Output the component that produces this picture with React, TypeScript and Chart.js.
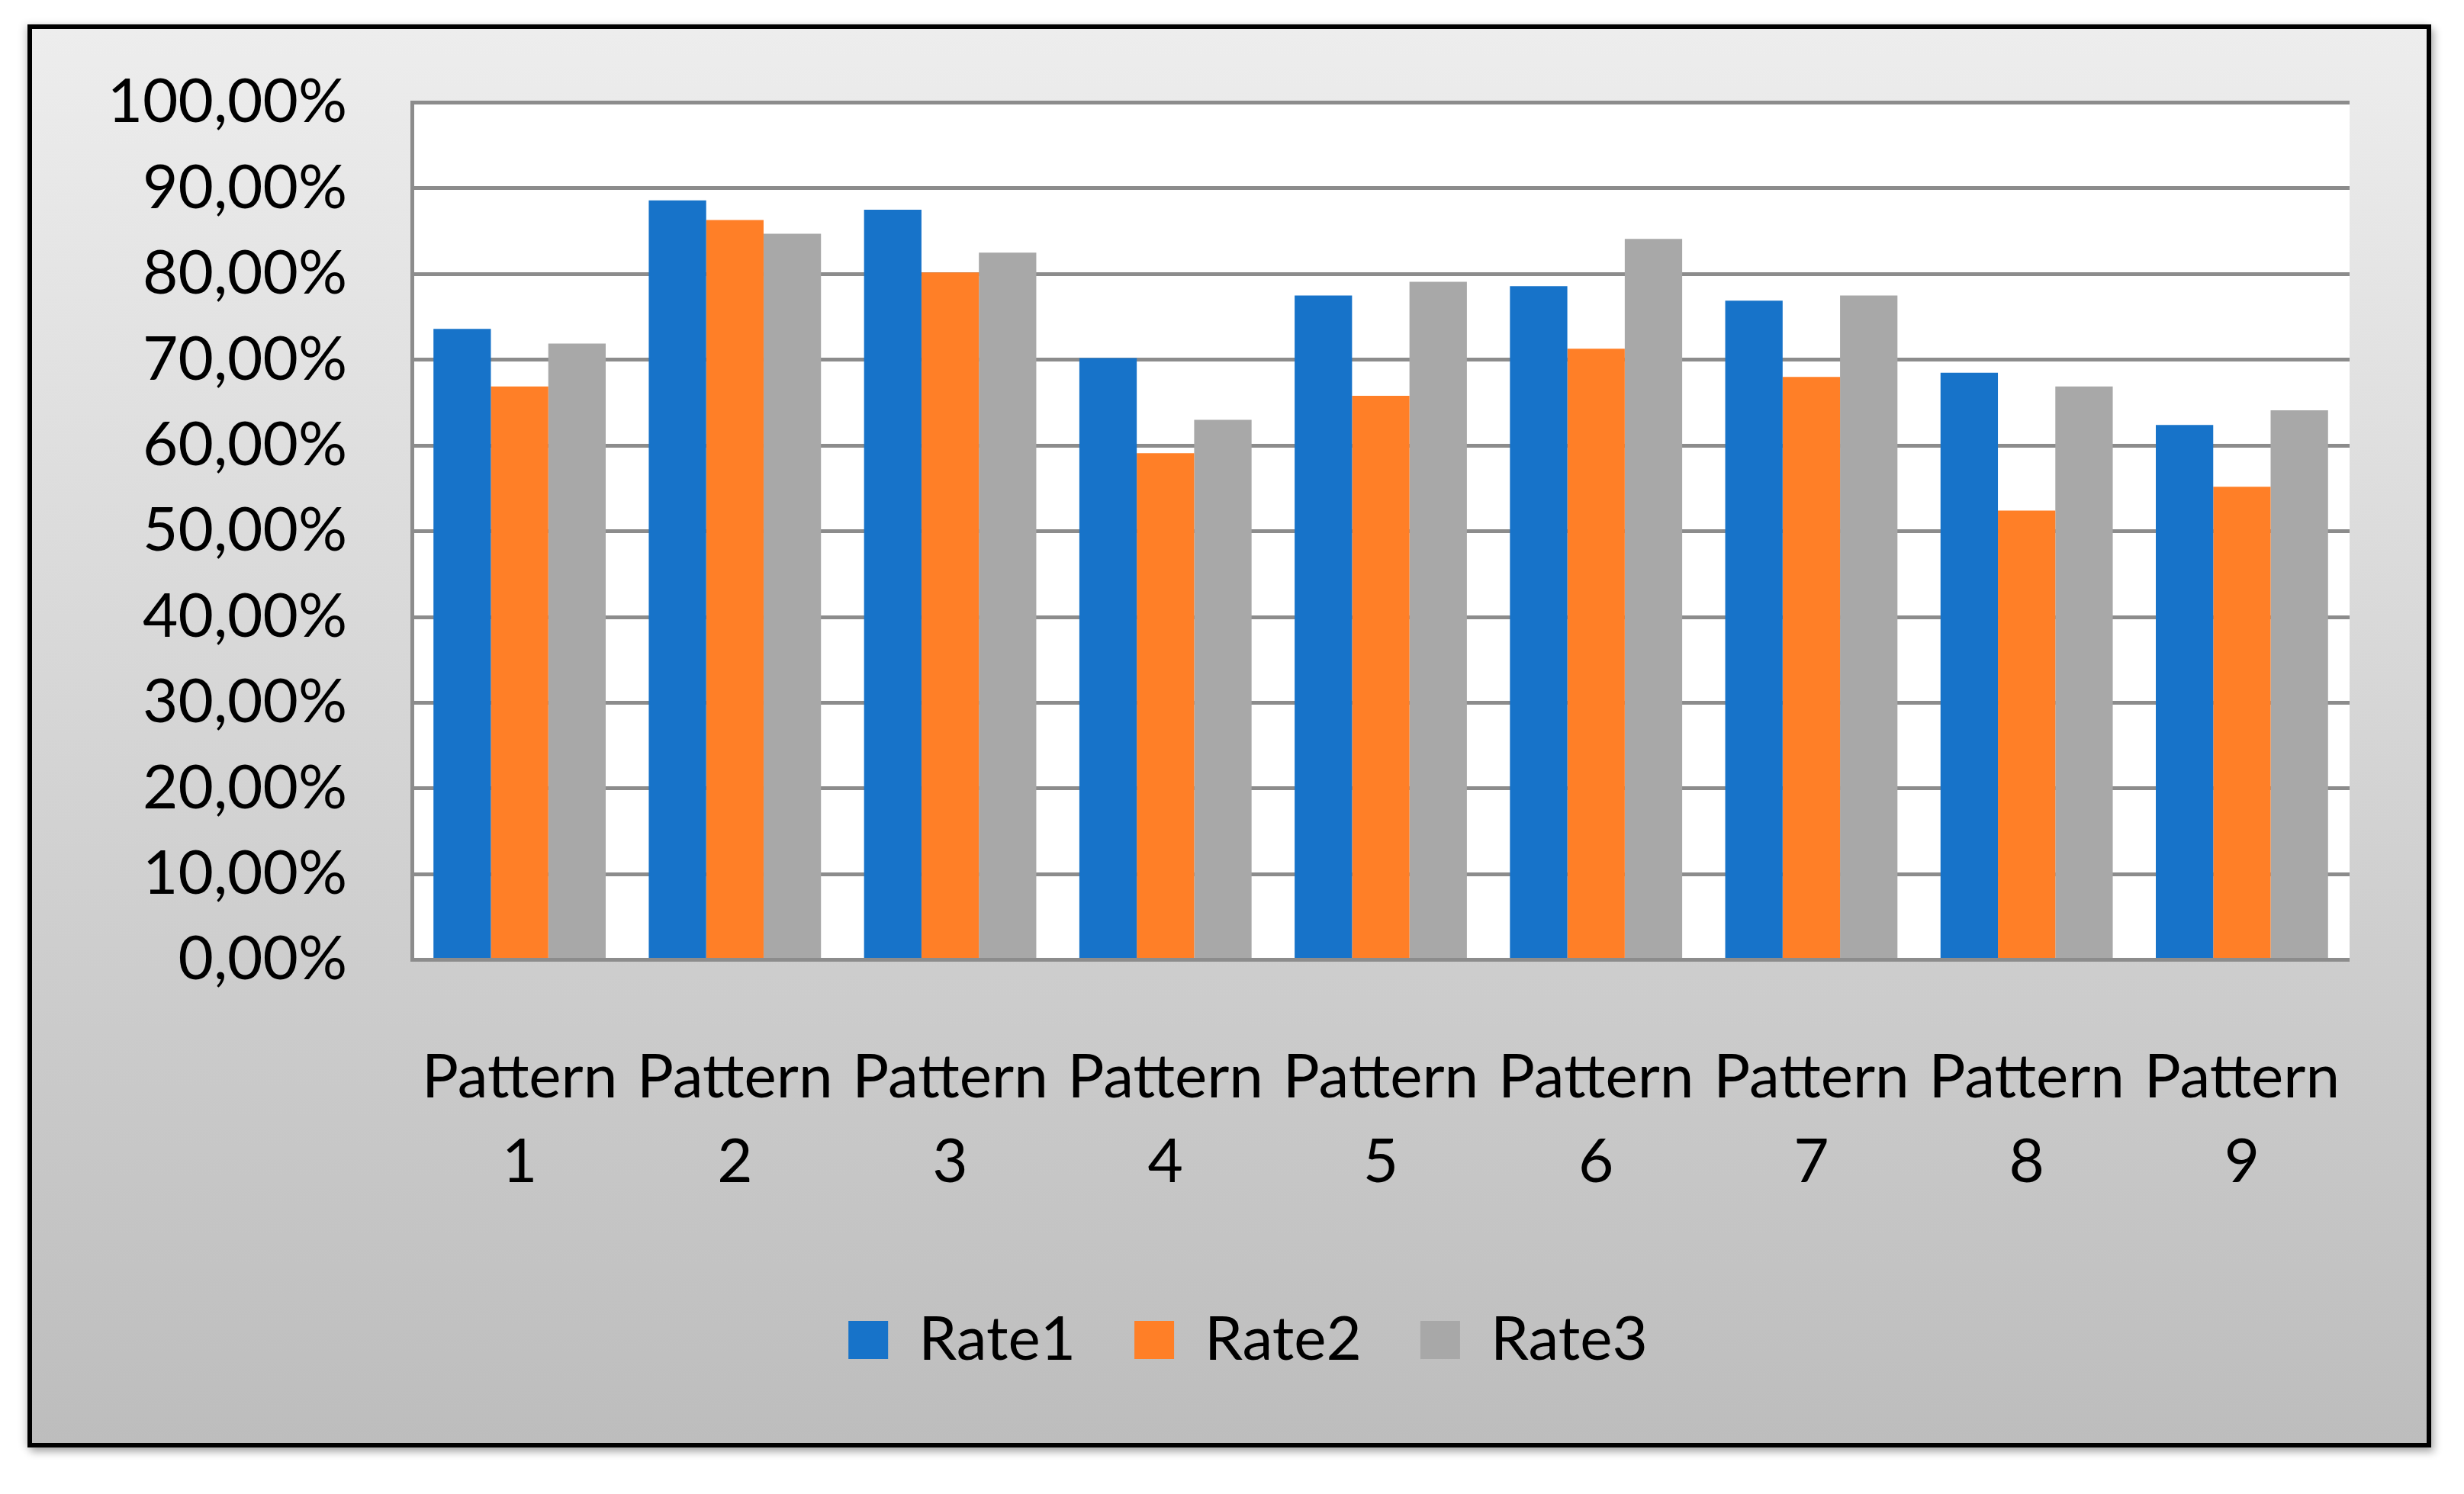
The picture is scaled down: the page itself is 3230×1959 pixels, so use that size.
import React, { useEffect, useRef } from "react";
import { Chart, registerables } from "chart.js";

Chart.register(...registerables);

// ---- data ----
const categoryWord = "Pattern";
const categories = ["1", "2", "3", "4", "5", "6", "7", "8", "9"];
const seriesNames = ["Rate1", "Rate2", "Rate3"];
const rate1 = [73.6, 88.6, 87.5, 70.2, 77.5, 78.6, 76.9, 68.5, 62.4];
const rate2 = [66.9, 86.3, 80.2, 59.1, 65.8, 71.3, 68.0, 52.4, 55.2];
const rate3 = [71.9, 84.7, 82.5, 63.0, 79.1, 84.1, 77.5, 66.9, 64.1];
const yMin = 0;
const yMax = 100;
const yStep = 10;

const seriesColors = ["#1773C9", "#FF7F27", "#A8A8A8"];

const plotBackground = {
  id: "plotBackground",
  beforeDraw(chart: any) {
    const { ctx, chartArea } = chart;
    if (!chartArea) return;
    ctx.save();
    ctx.fillStyle = "#ffffff";
    ctx.fillRect(
      chartArea.left,
      chartArea.top,
      chartArea.right - chartArea.left,
      chartArea.bottom - chartArea.top
    );
    ctx.restore();
  },
};

// The legend is centred over a span starting a little right of the canvas edge
const LEGEND_SPAN_LEFT = 150;
const legendSpan = {
  id: "legendSpan",
  afterLayout(chart: any) {
    if (chart.legend) {
      chart.legend.left = LEGEND_SPAN_LEFT;
    }
  },
};

const CANVAS_W = 3139;
const CANVAS_H = 1854;

export default function App() {
  const canvasRef = useRef<HTMLCanvasElement | null>(null);

  useEffect(() => {
    let chart: Chart | null = null;
    let cancelled = false;
    const font = "Lato, 'Open Sans', sans-serif";

    const build = () => {
      if (cancelled || !canvasRef.current) return;
      chart = new Chart(canvasRef.current, {
        type: "bar",
        data: {
          labels: categories.map((c) => [categoryWord, c]),
          datasets: [rate1, rate2, rate3].map((values, i) => ({
            label: seriesNames[i],
            data: values,
            backgroundColor: seriesColors[i],
            borderWidth: 0,
            categoryPercentage: 0.8,
            barPercentage: 1.0,
          })),
        },
        plugins: [plotBackground, legendSpan],
        options: {
          animation: false,
          responsive: false,
          devicePixelRatio: 1,
          layout: {
            padding: { top: 96.6, left: 0, right: 101, bottom: 85 },
          },
          plugins: {
            tooltip: { enabled: false },
            title: { display: false },
            legend: {
              display: true,
              position: "bottom",
              labels: {
                boxWidth: 52,
                boxHeight: 50,
                padding: 77,
                color: "#000000",
                font: { family: font, size: 80 },
              },
            },
          },
          scales: {
            x: {
              grid: { display: false, drawTicks: false },
              border: { display: false },
              ticks: {
                color: "#000000",
                font: { family: font, size: 80, lineHeight: 1.39 },
                padding: 98.8,
                maxRotation: 0,
                minRotation: 0,
                autoSkip: false,
              },
              afterFit: (scale: any) => {
                scale.height = 381.4;
                scale.paddingLeft = 0;
                scale.paddingRight = 0;
              },
            },
            y: {
              min: yMin,
              max: yMax,
              grid: {
                color: "#8C8C8C",
                lineWidth: 5,
                drawTicks: false,
              },
              border: { display: true, color: "#8C8C8C", width: 5 },
              ticks: {
                stepSize: yStep,
                color: "#000000",
                font: { family: font, size: 80 },
                padding: 85,
                callback: (v: any) =>
                  Number(v).toFixed(2).replace(".", ",") + "%",
              },
              afterFit: (scale: any) => {
                scale.width = 498;
                scale.paddingTop = 0;
                scale.paddingBottom = 0;
              },
            },
          },
        },
      } as any);
    };

    if ((document as any).fonts && (document as any).fonts.load) {
      (document as any).fonts.load("80px Lato").then(build, build);
    } else {
      build();
    }

    return () => {
      cancelled = true;
      if (chart) chart.destroy();
    };
  }, []);

  return (
    <div
      style={{
        position: "absolute",
        left: 36,
        top: 32,
        width: 3151,
        height: 1866,
        boxSizing: "border-box",
        border: "6px solid #000000",
        background: "linear-gradient(to bottom, #ededed 0%, #bdbdbd 100%)",
        boxShadow:
          "4px 6px 10px rgba(0,0,0,0.30), -4px 0px 10px rgba(0,0,0,0.12)",
      }}
    >
      <canvas
        ref={canvasRef}
        width={CANVAS_W}
        height={CANVAS_H}
        style={{ display: "block", width: CANVAS_W, height: CANVAS_H }}
      />
    </div>
  );
}
